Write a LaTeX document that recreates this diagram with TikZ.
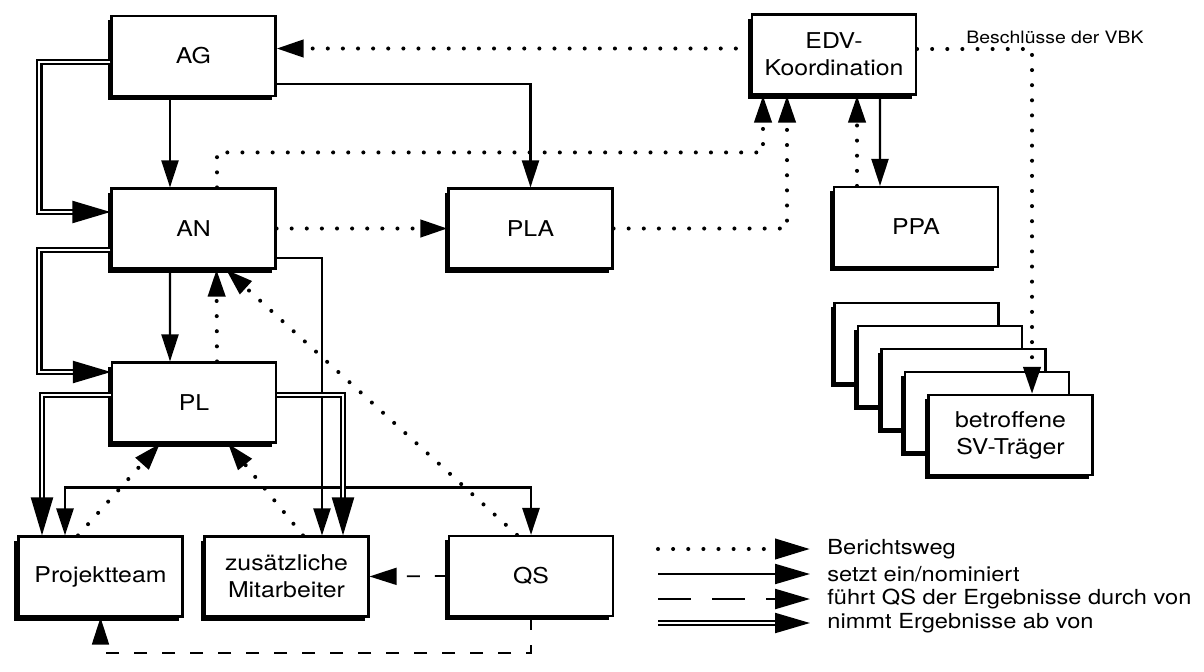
\documentclass[tikz,border=0pt]{standalone}
\usepackage{fontspec}
\setmainfont{TeX Gyre Heros}[FakeStretch=1.14]
\usetikzlibrary{arrows.meta, shadows}

\begin{document}
\begin{tikzpicture}[>={Triangle[length=0.54cm,width=0.34cm]},
    every node/.style={font=\fontsize{12.4}{15.4}\selectfont},
    kasten/.style={draw, line width=1.2pt, fill=white, minimum width=3.28cm,
        minimum height=1.6cm, align=center,
        drop shadow={shadow xshift=-0.08cm, shadow yshift=-0.08cm, opacity=1, fill=black}},
    bericht/.style={line width=2.3pt, line cap=round, dash pattern=on 0pt off 8.6pt},
    setzt/.style={line width=1.2pt},
    fuehrt/.style={line width=1pt, dash pattern=on 0.26cm off 0.3cm},
    nimmt/.style={double, line width=1.2pt, double distance=1.1pt,
        >={Triangle[length=0.76cm,width=0.44cm]}},
    legpfeil/.style={-{Triangle[length=0.7cm,width=0.4cm]}},
    legtext/.style={anchor=west, inner sep=0pt, font=\fontsize{11.8}{14}\selectfont}]
    \useasboundingbox (0,0) rectangle (24.08,-13.42);

    % Gremien
    \node[kasten] (AG) at (3.87,-1.12) {AG};
    \node[kasten] (AN) at (3.87,-4.57) {AN};
    \node[kasten] (PL) at (3.88,-8.05) {PL};
    \node[kasten] (PLA) at (10.61,-4.57) {PLA};
    \node[kasten] (EDV) at (16.68,-1.09) {EDV-\\Koordination};
    \node[kasten] (PPA) at (18.32,-4.54) {PPA};
    \node[kasten] (team) at (2.01,-11.53) {Projektteam};
    \node[kasten] (MA) at (5.73,-11.53) {zusätzliche\\Mitarbeiter};
    \node[kasten] (QS) at (10.62,-11.52) {QS};

    % SV-Traeger Stapel
    \foreach \i in {1,...,4}
        \node[kasten] (sv\i) at ({20.21-0.47*(5-\i)},{-8.7+0.46*(5-\i)}) {};
    \node[kasten] (sv5) at (20.21,-8.7) {betroffene\\SV-Träger};

    % setzt ein
    \draw[setzt,->] ([yshift=-0.56cm]AG.east) -| (PLA.north);
    \draw[setzt,->] ([xshift=-0.47cm]AG.south) -- ([xshift=-0.47cm]AN.north);
    \draw[setzt,->] ([xshift=-0.47cm]AN.south) -- ([xshift=-0.48cm]PL.north);
    \draw[setzt,->] ([yshift=-0.59cm]AN.east) -| ([xshift=0.71cm]MA.north);
    \draw[setzt,->] ([xshift=0.92cm]EDV.south) -- ([xshift=-0.72cm]PPA.north);
    \draw[line width=1.5pt,<->] ([xshift=-0.71cm]team.north) -- ++(0,0.96) -| (QS.north);

    % nimmt ab
    \draw[nimmt,->] ([yshift=-0.12cm]AG.west) -- ++(-1.42,0) |- ([yshift=0.33cm]AN.west);
    \draw[nimmt,->] ([yshift=-0.43cm]AN.west) -- ++(-1.42,0) |- ([yshift=0.61cm]PL.west);
    \draw[nimmt,->] ([yshift=0.15cm]PL.west) -| ([xshift=-1.17cm]team.north);
    \draw[nimmt,->] ([yshift=0.15cm]PL.east) -| ([xshift=1.13cm]MA.north);

    % Berichtswege
    \draw[bericht,->] ([yshift=1.2mm]EDV.west) -- ([yshift=1.2mm]EDV.west -| AG.east);
    \draw[bericht,->] (AN.east) -- (PLA.west);
    \draw[bericht,->] ([xshift=0.47cm]AN.north) -- ++(0,0.7) -| ([xshift=-1.42cm]EDV.south);
    \draw[bericht,->] (PLA.east) -| ([xshift=-0.94cm]EDV.south);
    \draw[bericht,->] ([xshift=-1.18cm]PPA.north) -- ([xshift=0.46cm]EDV.south);
    \draw[bericht,->] ([yshift=1.1mm]EDV.east) -| ([xshift=0.43cm]sv5.north);
    \draw[bericht,->] ([xshift=0.46cm]PL.north) -- ([xshift=0.46cm]AN.south);
    \draw[bericht,->] ([xshift=-0.28cm]QS.north) -- ([xshift=0.65cm]AN.south);
    \draw[bericht,->] ([xshift=-0.45cm]team.north) -- ([xshift=-0.68cm]PL.south);
    \draw[bericht,->] ([xshift=0.33cm]MA.north) -- ([xshift=0.68cm]PL.south);
    \node[font=\fontsize{9.7}{11}\selectfont] (vbk) at (21.1,-0.74) {Beschlüsse der VBK};

    % QS
    \draw[fuehrt,->] (QS.west) -- (MA.east);
    \draw[fuehrt,->] (QS.south) -- ++(0,-0.72) -| (team.south);

    % Legende
    \coordinate (l1a) at (13.16,-10.98);
    \coordinate (l1b) at (16.2,-10.98);
    \coordinate (l2a) at (13.16,-11.48);
    \coordinate (l2b) at (16.2,-11.48);
    \coordinate (l3a) at (13.16,-11.98);
    \coordinate (l3b) at (16.2,-11.98);
    \coordinate (l4a) at (13.16,-12.46);
    \coordinate (l4b) at (16.2,-12.46);
    \draw[bericht,legpfeil] (l1a) -- (l1b);
    \draw[setzt,legpfeil] (l2a) -- (l2b);
    \draw[fuehrt,line width=1.3pt,dash pattern=on 0.66cm off 0.42cm,legpfeil] (l3a) -- (l3b);
    \draw[nimmt,legpfeil] (l4a) -- (l4b);
    \node[legtext] (t1) at (16.54,-10.98) {Berichtsweg};
    \node[legtext] (t2) at (16.54,-11.48) {setzt ein/nominiert};
    \node[legtext] (t3) at (16.54,-11.98) {führt QS der Ergebnisse durch von};
    \node[legtext] (t4) at (16.54,-12.46) {nimmt Ergebnisse ab von};
\end{tikzpicture}
\end{document}
